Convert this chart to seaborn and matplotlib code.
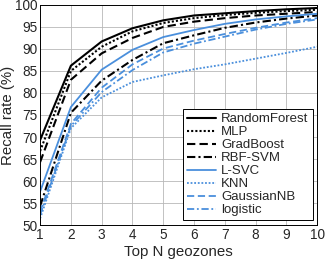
import pandas as pd
import seaborn as sns
import matplotlib.pyplot as plt

top_n = [1, 2, 3, 4, 5, 6, 7, 8, 9, 10]
modelos = ['RandomForest', 'MLP', 'GradBoost', 'RBF-SVM', 'L-SVC', 'KNN', 'GaussianNB', 'logistic']

random_forest = [69.3, 86.2, 91.7, 94.7, 96.5, 97.6, 98.1, 98.6, 99.0, 99.3]
mlp = [66.8, 85.0, 90.5, 94.0, 95.9, 97.0, 97.7, 98.2, 98.6, 98.9]
grad_boost = [64.3, 83.0, 89.0, 92.5, 95.0, 96.2, 97.0, 97.6, 98.0, 98.4]
rbf_svm = [54.3, 75.5, 82.8, 87.5, 91.3, 93.1, 94.8, 96.0, 96.9, 97.6]
l_svc = [57.6, 76.8, 85.3, 89.8, 92.7, 94.3, 95.7, 96.7, 97.4, 98.0]
knn = [51.5, 72.0, 79.0, 82.5, 84.0, 85.4, 86.5, 87.8, 89.1, 90.5]
gaussian_nb = [53.0, 73.0, 81.2, 86.5, 90.1, 91.9, 93.4, 94.8, 96.0, 97.0]
logistic = [52.3, 72.5, 80.2, 85.2, 89.2, 91.2, 92.8, 94.4, 95.7, 96.7]

valores = [random_forest, mlp, grad_boost, rbf_svm, l_svc, knn, gaussian_nb, logistic]

# datos en formato largo para seaborn
filas = []
for nombre, serie in zip(modelos, valores):
    for n, v in zip(top_n, serie):
        filas.append({'Top N geozones': n, 'Recall rate (%)': v, 'modelo': nombre})
df = pd.DataFrame(filas)

azul = '#4a8fdc'
colores = {'RandomForest': 'black', 'MLP': 'black', 'GradBoost': 'black', 'RBF-SVM': 'black',
           'L-SVC': azul, 'KNN': azul, 'GaussianNB': azul, 'logistic': azul}
estilos = {'RandomForest': '', 'MLP': (1, 1), 'GradBoost': (4, 2), 'RBF-SVM': (4, 1.5, 1, 1.5),
           'L-SVC': '', 'KNN': (1, 1), 'GaussianNB': (4, 2), 'logistic': (4, 1.5, 1, 1.5)}
grosor = {'RandomForest': 1.5, 'MLP': 1.5, 'GradBoost': 1.5, 'RBF-SVM': 1.5,
          'L-SVC': 1.3, 'KNN': 1.3, 'GaussianNB': 1.3, 'logistic': 1.3}

sns.set_style("whitegrid")
plt.rcParams['font.family'] = ['Liberation Sans', 'DejaVu Sans']

fig, ax = plt.subplots(figsize=(3.26, 2.59), dpi=100)
fig.subplots_adjust(left=0.123, right=0.973, top=0.981, bottom=0.131)

for nombre in modelos:
    sub = df[df['modelo'] == nombre]
    sns.lineplot(data=sub, x='Top N geozones', y='Recall rate (%)', ax=ax,
                 color=colores[nombre], lw=grosor[nombre], label=nombre,
                 dashes=False)
    linea = ax.get_lines()[-1]
    if estilos[nombre] != '':
        linea.set_dashes(estilos[nombre])

ax.set_xlim(1, 10)
ax.set_ylim(50, 100)
ax.set_xticks(top_n)
ax.set_yticks(range(50, 101, 5))
ax.tick_params(labelsize=9.8, length=2, direction='in', pad=2)
ax.set_xlabel('Top N geozones', fontsize=10.8, labelpad=2)
ax.set_ylabel('Recall rate (%)', fontsize=10.8, labelpad=0)
ax.grid(True, color='#b8b8b8', lw=0.6)
for s in ax.spines.values():
    s.set_color('black')
    s.set_linewidth(0.7)

leg = ax.legend(loc='lower right', fontsize=9.5, frameon=True, fancybox=False,
                edgecolor='black', framealpha=1, handlelength=2.2, handletextpad=0.4,
                borderpad=0.3, labelspacing=0.06, borderaxespad=0.35)
leg.get_frame().set_linewidth(0.7)

plt.savefig('out.png', dpi=100)
